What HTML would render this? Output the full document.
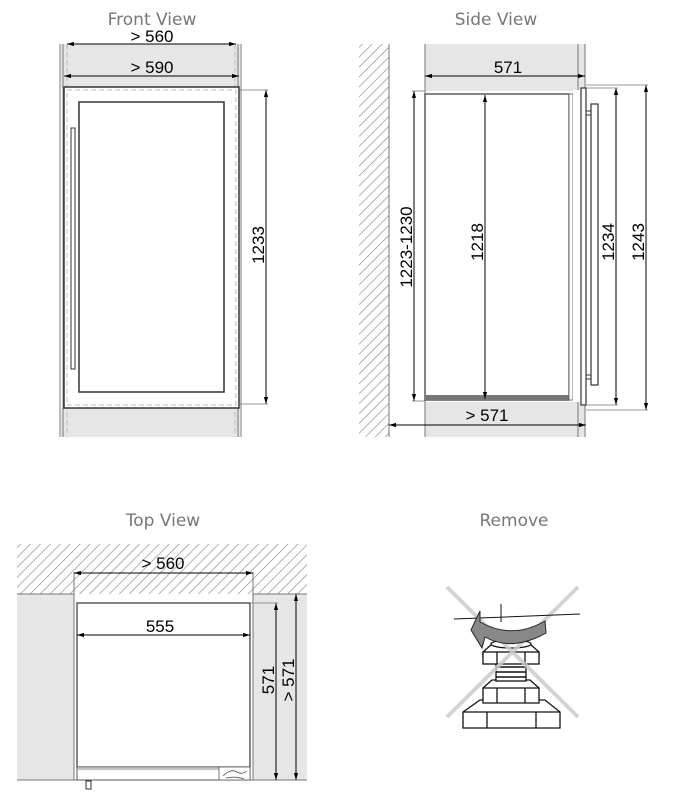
<!DOCTYPE html>
<html><head><style>body{margin:0;background:#fff}svg{display:block}</style></head><body>
<svg width="686" height="812" viewBox="0 0 686 812" xmlns="http://www.w3.org/2000/svg" font-family="Liberation Sans, sans-serif">
<defs>
<pattern id="h" width="7" height="7" patternUnits="userSpaceOnUse" patternTransform="rotate(45)">
<rect width="7" height="7" fill="#fff"/><line x1="0" y1="0" x2="0" y2="7" stroke="#888" stroke-width="1.3"/></pattern>
<marker id="a" viewBox="0 0 10 10" refX="10" refY="5" markerWidth="7" markerHeight="7" orient="auto-start-reverse"><path d="M0,2 L10,5 L0,8z" fill="#000"/></marker>
</defs>
<g font-family="DejaVu Sans, sans-serif" font-size="17" fill="#777" text-anchor="middle">
<text x="152" y="25">Front View</text><text x="496" y="25">Side View</text>
<text x="163" y="526">Top View</text><text x="514" y="526">Remove</text>
</g>
<!-- FRONT -->
<rect x="61" y="44" width="179" height="44" fill="#e6e6e6"/>
<rect x="61" y="408" width="179" height="29" fill="#e6e6e6"/>
<g stroke="#777" stroke-width="1"><line x1="60" y1="44" x2="60" y2="437"/><line x1="63" y1="44" x2="63" y2="437"/><line x1="238" y1="44" x2="238" y2="437"/><line x1="241" y1="44" x2="241" y2="437"/></g>
<g stroke="#bbb" stroke-dasharray="5,3"><line x1="67" y1="44" x2="67" y2="437"/><line x1="235" y1="44" x2="235" y2="437"/></g>
<rect x="64" y="87" width="175" height="321" fill="#fff" stroke="#333" stroke-width="1.5"/>
<rect x="67" y="90" width="169" height="315" fill="none" stroke="#bbb" stroke-dasharray="5,3"/>
<rect x="79" y="102" width="145" height="290" fill="#fff" stroke="#333" stroke-width="1.5"/>
<rect x="71" y="128" width="4" height="241" fill="#fff" stroke="#333"/>
<g stroke="#000" stroke-width="1"><line x1="67" y1="44" x2="236" y2="44" marker-start="url(#a)" marker-end="url(#a)"/>
<line x1="64" y1="76" x2="239" y2="76" marker-start="url(#a)" marker-end="url(#a)"/>
<line x1="266" y1="90" x2="266" y2="404" marker-start="url(#a)" marker-end="url(#a)"/></g>
<g stroke="#777" stroke-width="0.8"><line x1="239" y1="90" x2="268" y2="90"/><line x1="239" y1="404" x2="268" y2="404"/></g>
<g font-size="17" fill="#000" text-anchor="middle"><text x="152" y="42">&gt; 560</text><text x="152" y="73">&gt; 590</text>
<text transform="translate(264,245) rotate(-90)">1233</text></g>
<!-- SIDE -->
<rect x="359" y="44" width="30" height="393" fill="url(#h)"/><line x1="389" y1="44" x2="389" y2="437" stroke="#777"/>
<rect x="425" y="44" width="160" height="47" fill="#e6e6e6"/>
<rect x="425" y="402" width="160" height="35" fill="#e6e6e6"/>
<g stroke="#777"><line x1="425" y1="44" x2="425" y2="437"/><line x1="578" y1="44" x2="578" y2="437"/><line x1="585" y1="44" x2="585" y2="437"/></g>
<rect x="425" y="94" width="144" height="306" fill="#fff" stroke="#333" stroke-width="1.2"/>
<rect x="425" y="395" width="144" height="5" fill="#777"/>
<rect x="569" y="94" width="4" height="306" fill="#fff" stroke="#555" stroke-width="0.8"/>
<rect x="573" y="90" width="8" height="312" fill="#fff"/>
<rect x="581" y="88" width="5" height="317" fill="#fff" stroke="#333" stroke-width="1.2"/>
<rect x="591" y="104" width="7" height="281" fill="#fff" stroke="#333" stroke-width="1.2"/>
<g stroke="#333"><line x1="586" y1="111" x2="591" y2="111"/><line x1="586" y1="115" x2="591" y2="115"/><line x1="586" y1="375" x2="591" y2="375"/><line x1="586" y1="379" x2="591" y2="379"/></g>
<g stroke="#000"><line x1="425" y1="76" x2="585" y2="76" marker-start="url(#a)" marker-end="url(#a)"/>
<line x1="414" y1="91" x2="414" y2="401" marker-start="url(#a)" marker-end="url(#a)"/>
<line x1="485" y1="95" x2="485" y2="399" marker-start="url(#a)" marker-end="url(#a)"/>
<line x1="616" y1="88" x2="616" y2="405" marker-start="url(#a)" marker-end="url(#a)"/>
<line x1="646" y1="85" x2="646" y2="410" marker-start="url(#a)" marker-end="url(#a)"/>
<line x1="389" y1="425" x2="586" y2="425" marker-start="url(#a)" marker-end="url(#a)"/></g>
<g stroke="#777" stroke-width="0.8"><line x1="412" y1="91" x2="425" y2="91"/><line x1="412" y1="401" x2="425" y2="401"/>
<line x1="586" y1="88" x2="618" y2="88"/><line x1="586" y1="405" x2="618" y2="405"/><line x1="586" y1="85" x2="648" y2="85"/><line x1="586" y1="410" x2="648" y2="410"/></g>
<g font-size="17" fill="#000" text-anchor="middle"><text x="508" y="73">571</text><text x="487" y="421">&gt; 571</text>
<text transform="translate(412,247) rotate(-90)">1223-1230</text><text transform="translate(483,242) rotate(-90)">1218</text>
<text transform="translate(614,242) rotate(-90)">1234</text><text transform="translate(644,242) rotate(-90)">1243</text></g>
<!-- TOP -->
<rect x="17" y="544" width="290" height="50" fill="url(#h)"/>
<rect x="17" y="594" width="57" height="186" fill="#e6e6e6"/><rect x="253" y="594" width="54" height="186" fill="#e6e6e6"/>
<rect x="74" y="594" width="179" height="186" fill="#fff"/>
<g stroke="#777"><line x1="74" y1="572" x2="74" y2="780"/><line x1="253" y1="572" x2="253" y2="780"/><line x1="17" y1="594" x2="74" y2="594"/><line x1="253" y1="594" x2="307" y2="594"/><line x1="17" y1="780" x2="307" y2="780"/></g>
<rect x="77" y="603" width="173" height="164" fill="#fff" stroke="#333" stroke-width="1.2"/>
<rect x="77" y="767" width="173" height="13" fill="#fff" stroke="#555"/>
<line x1="77" y1="769" x2="250" y2="769" stroke="#888"/>
<rect x="219" y="767" width="31" height="13" fill="#fff" stroke="#555" stroke-width="0.8"/>
<path d="M223,776 q8,-8 14,-4 q5,3 10,-1 M226,778 q10,-2 18,1" fill="none" stroke="#555" stroke-width="0.8"/>
<rect x="86" y="781" width="5" height="8" fill="#fff" stroke="#333"/>
<g stroke="#000"><line x1="74" y1="573" x2="253" y2="573" marker-start="url(#a)" marker-end="url(#a)"/>
<line x1="77" y1="635" x2="250" y2="635" marker-start="url(#a)" marker-end="url(#a)"/>
<line x1="276" y1="603" x2="276" y2="780" marker-start="url(#a)" marker-end="url(#a)"/>
<line x1="296" y1="594" x2="296" y2="780" marker-start="url(#a)" marker-end="url(#a)"/></g>
<line x1="250" y1="603" x2="278" y2="603" stroke="#777" stroke-width="0.8"/>
<g font-size="17" fill="#000" text-anchor="middle"><text x="163" y="569">&gt; 560</text><text x="160" y="632">555</text>
<text transform="translate(274,680) rotate(-90)">571</text><text transform="translate(294,680) rotate(-90)">&gt; 571</text></g>
<!-- REMOVE -->
<g stroke="#111" stroke-width="1.3" fill="#fff">
<polygon points="463,712 480,700 545,700 560,712 560,728 463,728"/>
<line x1="487" y1="712" x2="487" y2="728"/><line x1="536" y1="712" x2="536" y2="728"/><line x1="463" y1="712" x2="560" y2="712"/>
<polygon points="483,688 492,680 530,680 539,688 539,703 483,703"/><line x1="483" y1="688" x2="539" y2="688"/><line x1="497" y1="688" x2="497" y2="703"/><line x1="525" y1="688" x2="525" y2="703"/>
<rect x="496" y="657" width="30" height="24"/>
<g stroke-width="1.5"><line x1="496" y1="662" x2="526" y2="662"/><line x1="496" y1="667" x2="526" y2="667"/><line x1="496" y1="672" x2="526" y2="672"/><line x1="496" y1="677" x2="526" y2="677"/></g>
<polygon points="483,652 492,644 530,644 539,652 539,657 483,657"/><rect x="483" y="652" width="56" height="12"/><line x1="497" y1="652" x2="497" y2="664"/><line x1="525" y1="652" x2="525" y2="664"/>
<ellipse cx="511" cy="644" rx="20" ry="4"/>
</g>
<g stroke="#ccc" stroke-width="4" opacity="0.85"><line x1="447" y1="587" x2="578" y2="717"/><line x1="578" y1="587" x2="447" y2="717"/></g>
<g stroke="#111" stroke-width="1"><line x1="454" y1="619" x2="580" y2="614"/><line x1="501" y1="604" x2="501" y2="622"/></g>
<path d="M480,622 Q512,640 545,621 L546,633 Q512,652 485,637 L482,648 L471,630 L480,611 Z" fill="#888" stroke="#222" stroke-width="1"/>
</svg>
</body></html>
